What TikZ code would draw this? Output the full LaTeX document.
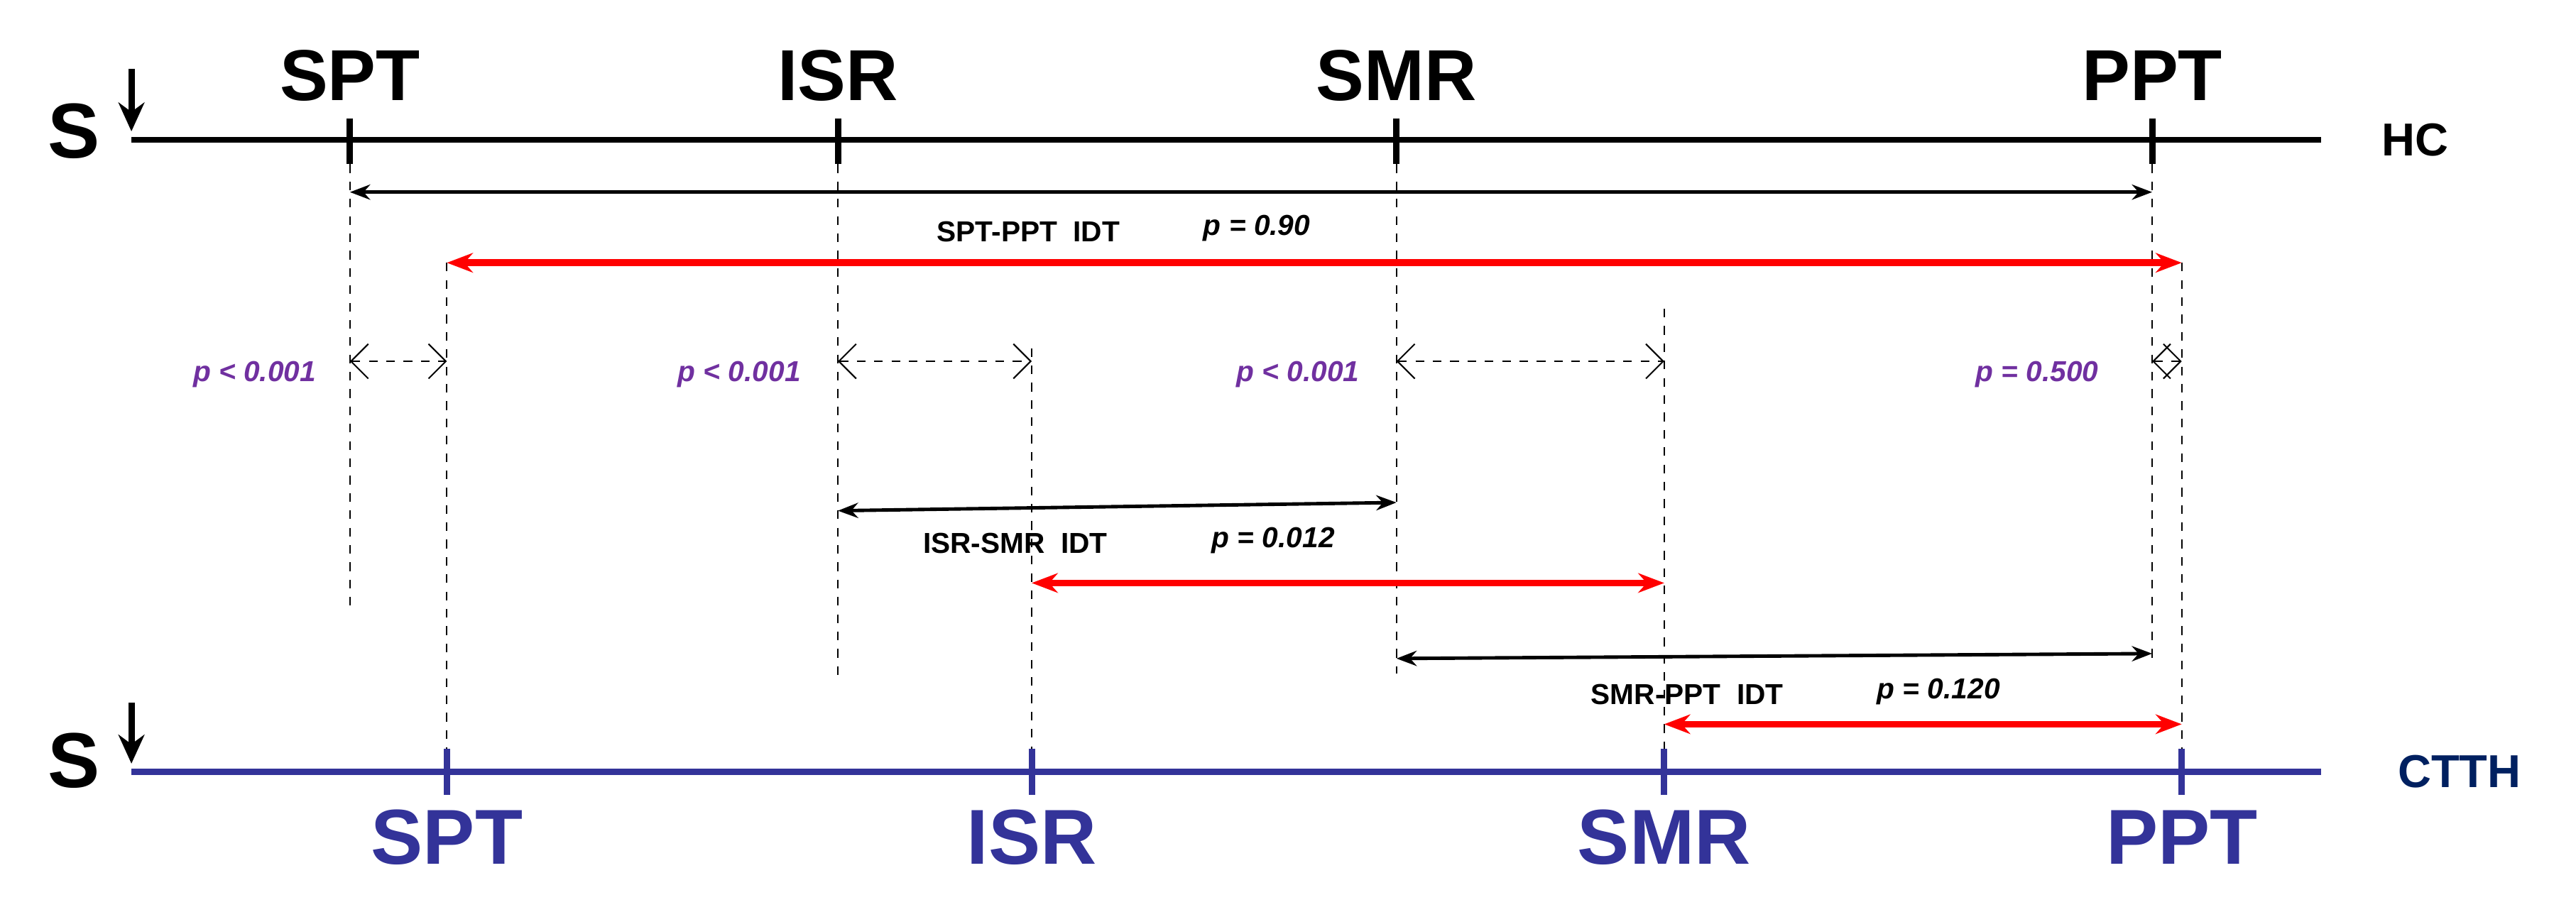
\documentclass[tikz,border=0pt]{standalone}
\usepackage{fontspec}
\setmainfont{Liberation Sans}
\usetikzlibrary{arrows.meta}
\definecolor{pur}{RGB}{112,48,160}
\definecolor{bl}{RGB}{51,51,153}
\definecolor{navy}{RGB}{0,32,96}
\begin{document}
\begin{tikzpicture}[x=0.02cm,y=-0.02cm,
 tk/.style={line width=2.2pt},
 vd/.style={dashed,line width=0.5pt},
 ba/.style={line width=1.2pt,{Stealth[length=7pt]}-{Stealth[length=7pt]}},
 ra/.style={red,line width=2.4pt,{Stealth[length=9pt]}-{Stealth[length=9pt]}},
 da/.style={dashed,line width=0.5pt,{Straight Barb[length=6pt]}-{Straight Barb[length=6pt]}},
 sa/.style={line width=2.2pt,-{Stealth[length=10pt,width=9pt]}},
 pl/.style={font=\bfseries\itshape\fontsize{10}{12}\selectfont,text=pur},
 il/.style={font=\bfseries\fontsize{10}{12}\selectfont},
 tl/.style={font=\bfseries\fontsize{25}{29}\selectfont},
 bt/.style={font=\bfseries\fontsize{27}{31}\selectfont,text=bl}]
\useasboundingbox (0,0) rectangle (1568,555);
% top line
\coordinate (ts) at (80,85); \coordinate (te) at (1413,85);
\draw[line width=2pt] (ts) -- (te);
\node[font=\bfseries\fontsize{27}{31}\selectfont] (s1) at (45,80) {S};
\coordinate (a1) at (80,42); \coordinate (a1e) at (80,80);
\draw[sa] (a1) -- (a1e);
\node[font=\bfseries\fontsize{16}{19}\selectfont] (hc) at (1470,85) {HC};
\foreach \n/\x in {SPT/213,ISR/510,SMR/850,PPT/1310}{
 \coordinate (h\n) at (\x,85);
 \draw[tk] (\x,72) -- (\x,100);
 \node[tl] at (\x,46) {\n};}
% bottom line
\coordinate (bs) at (80,470); \coordinate (be) at (1413,470);
\draw[line width=2pt,bl] (bs) -- (be);
\node[font=\bfseries\fontsize{27}{31}\selectfont] (s2) at (45,463) {S};
\coordinate (a2) at (80,428); \coordinate (a2e) at (80,465);
\draw[sa] (a2) -- (a2e);
\node[font=\bfseries\fontsize{16}{19}\selectfont,text=navy] (ct) at (1497,470) {CTTH};
\foreach \n/\x in {SPT/272,ISR/628,SMR/1013,PPT/1328}{
 \coordinate (c\n) at (\x,470);
 \draw[tk,bl] (\x,456) -- (\x,484);
 \node[bt] at (\x,510) {\n};}
% dashed verticals
\draw[vd] (213,100) -- (213,370);
\draw[vd] (272,160) -- (272,456);
\draw[vd] (510,100) -- (510,412);
\draw[vd] (628,212) -- (628,456);
\draw[vd] (850,100) -- (850,410);
\draw[vd] (1013,188) -- (1013,456);
\draw[vd] (1310,100) -- (1310,405);
\draw[vd] (1328,160) -- (1328,456);
% arrows
\draw[ba] (213,117) -- (1310,117);
\node[il] at (626,141) {SPT-PPT\ \ IDT};
\node[il,font=\bfseries\itshape\fontsize{10}{12}\selectfont] at (765,139) {p = 0.90};
\draw[ra] (272,160) -- (1328,160);
\foreach \a/\b in {213/272,510/628,850/1013,1310/1328}
 \draw[da] (\a,220) -- (\b,220);
\node[pl] at (155,228) {p < 0.001};
\node[pl] at (450,228) {p < 0.001};
\node[pl] at (790,228) {p < 0.001};
\node[pl] at (1240,228) {p = 0.500};
\draw[ba] (510,311) -- (850,306);
\node[il] at (618,331) {ISR-SMR\ \ IDT};
\node[il,font=\bfseries\itshape\fontsize{10}{12}\selectfont] at (775,329) {p = 0.012};
\draw[ra] (628,355) -- (1013,355);
\draw[ba] (850,401) -- (1310,398);
\node[il] at (1027,423) {SMR-PPT\ \ IDT};
\node[il,font=\bfseries\itshape\fontsize{10}{12}\selectfont] at (1180,421) {p = 0.120};
\draw[ra] (1013,441) -- (1328,441);
\end{tikzpicture}
\end{document}
